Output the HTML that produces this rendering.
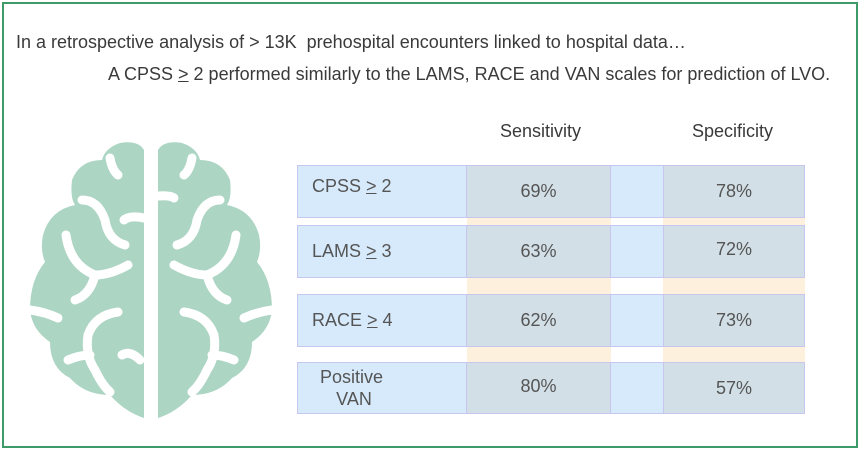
<!DOCTYPE html>
<html><head><style>
body{margin:0;width:860px;height:449px;background:#fff;position:relative;overflow:hidden;font-family:"Liberation Sans",sans-serif;color:#3a3a3a}
.frame{position:absolute;left:2px;top:2px;width:852px;height:442px;border:2px solid #3e9a66}
.t{position:absolute;white-space:nowrap;font-size:18px}
.c{position:absolute;box-sizing:border-box;border:1px solid #c6c6ee;display:flex;align-items:center;justify-content:center;font-size:18px;color:#555}
.o{position:absolute;background:#fdf0dc}
</style></head><body>
<div class="frame"></div>
<div class="t" style="left:16px;top:32px">In a retrospective analysis of &gt; 13K&nbsp; prehospital encounters linked to hospital data…</div>
<div class="t" style="left:108px;top:64px">A CPSS <u>&gt;</u> 2 performed similarly to the LAMS, RACE and VAN scales for prediction of LVO.</div>
<div class="t" style="left:500px;top:121px">Sensitivity</div>
<div class="t" style="left:692px;top:121px">Specificity</div>

<div class="o" style="left:467px;top:218px;width:144px;height:7px"></div>
<div class="o" style="left:663px;top:218px;width:142px;height:7px"></div>
<div class="o" style="left:467px;top:278px;width:144px;height:16px"></div>
<div class="o" style="left:663px;top:278px;width:142px;height:16px"></div>
<div class="o" style="left:467px;top:347px;width:144px;height:15px"></div>
<div class="o" style="left:663px;top:347px;width:142px;height:15px"></div>

<div style="position:absolute;left:297px;top:165px;width:508px;height:53px;background:#d6eafb"></div>
<div style="position:absolute;left:297px;top:225px;width:508px;height:53px;background:#d6eafb"></div>
<div style="position:absolute;left:297px;top:294px;width:508px;height:53px;background:#d6eafb"></div>
<div style="position:absolute;left:297px;top:362px;width:508px;height:52px;background:#d6eafb"></div>

<div class="c" style="left:297px;top:165px;width:170px;height:53px;justify-content:flex-start;padding-left:14px;align-items:flex-start;padding-top:10px">CPSS&nbsp;<u>&gt;</u>&nbsp;2</div>
<div class="c" style="left:466px;top:165px;width:145px;height:53px;background:#d2dfe6">69%</div>
<div class="c" style="left:610px;top:165px;width:54px;height:53px"></div>
<div class="c" style="left:663px;top:165px;width:142px;height:53px;background:#d2dfe6">78%</div>

<div class="c" style="left:297px;top:225px;width:170px;height:53px;justify-content:flex-start;padding-left:14px">LAMS&nbsp;<u>&gt;</u>&nbsp;3</div>
<div class="c" style="left:466px;top:225px;width:145px;height:53px;background:#d2dfe6">63%</div>
<div class="c" style="left:610px;top:225px;width:54px;height:53px"></div>
<div class="c" style="left:663px;top:225px;width:142px;height:53px;background:#d2dfe6;padding-bottom:5px">72%</div>

<div class="c" style="left:297px;top:294px;width:170px;height:53px;justify-content:flex-start;padding-left:14px">RACE&nbsp;<u>&gt;</u>&nbsp;4</div>
<div class="c" style="left:466px;top:294px;width:145px;height:53px;background:#d2dfe6">62%</div>
<div class="c" style="left:610px;top:294px;width:54px;height:53px"></div>
<div class="c" style="left:663px;top:294px;width:142px;height:53px;background:#d2dfe6">73%</div>

<div class="c" style="left:297px;top:362px;width:170px;height:52px;justify-content:flex-start;padding-left:22px;line-height:22px;text-align:center"><div>Positive<br>&nbsp;VAN</div></div>
<div class="c" style="left:466px;top:362px;width:145px;height:52px;background:#d2dfe6;padding-bottom:4px">80%</div>
<div class="c" style="left:610px;top:362px;width:54px;height:52px"></div>
<div class="c" style="left:663px;top:362px;width:142px;height:52px;background:#d2dfe6">57%</div>

<svg style="position:absolute;left:0;top:0" width="300" height="449">
<g fill="#acd5c4">
<path d="M144,150 Q138,140 120,143 Q105,148 102,160 Q80,160 72,180 Q70,198 75,205 Q50,210 43,235 Q40,250 45,262 Q30,280 30,310 Q32,330 50,342 Q50,368 70,378 Q85,395 110,395 Q125,412 144,418 Z"/>
<path d="M158,150 Q164,140 182,143 Q197,148 200,160 Q222,160 230,180 Q232,198 227,205 Q252,210 259,235 Q262,250 257,262 Q272,280 272,310 Q270,330 252,342 Q252,368 232,378 Q217,395 192,395 Q177,412 158,418 Z"/>
</g>
<g fill="none" stroke="#fff" stroke-width="9" stroke-linecap="round">
<path d="M110,158 Q112,170 118,175"/><path d="M82,200 Q98,200 105,220 Q108,240 125,245"/>
<path d="M66,235 Q70,265 95,275 Q110,275 128,265"/><path d="M95,275 Q90,295 75,300"/>
<path d="M30,310 Q45,312 58,318"/><path d="M118,312 Q95,315 88,335 Q85,355 95,370 Q102,385 110,392"/>
<path d="M68,360 Q80,355 90,355"/><path d="M122,355 Q130,350 140,360"/>
<path d="M192,158 Q190,170 184,175"/><path d="M220,200 Q204,200 197,220 Q194,240 177,245"/>
<path d="M236,235 Q232,265 207,275 Q192,275 174,265"/><path d="M207,275 Q212,295 227,300"/>
<path d="M272,310 Q257,312 244,318"/><path d="M184,312 Q207,315 214,335 Q217,355 207,370 Q200,385 192,392"/>
<path d="M234,360 Q222,355 212,355"/><path d="M144,218 Q130,215 124,220"/><path d="M158,196 Q170,195 174,198"/>
</g>
</svg>
</body></html>
